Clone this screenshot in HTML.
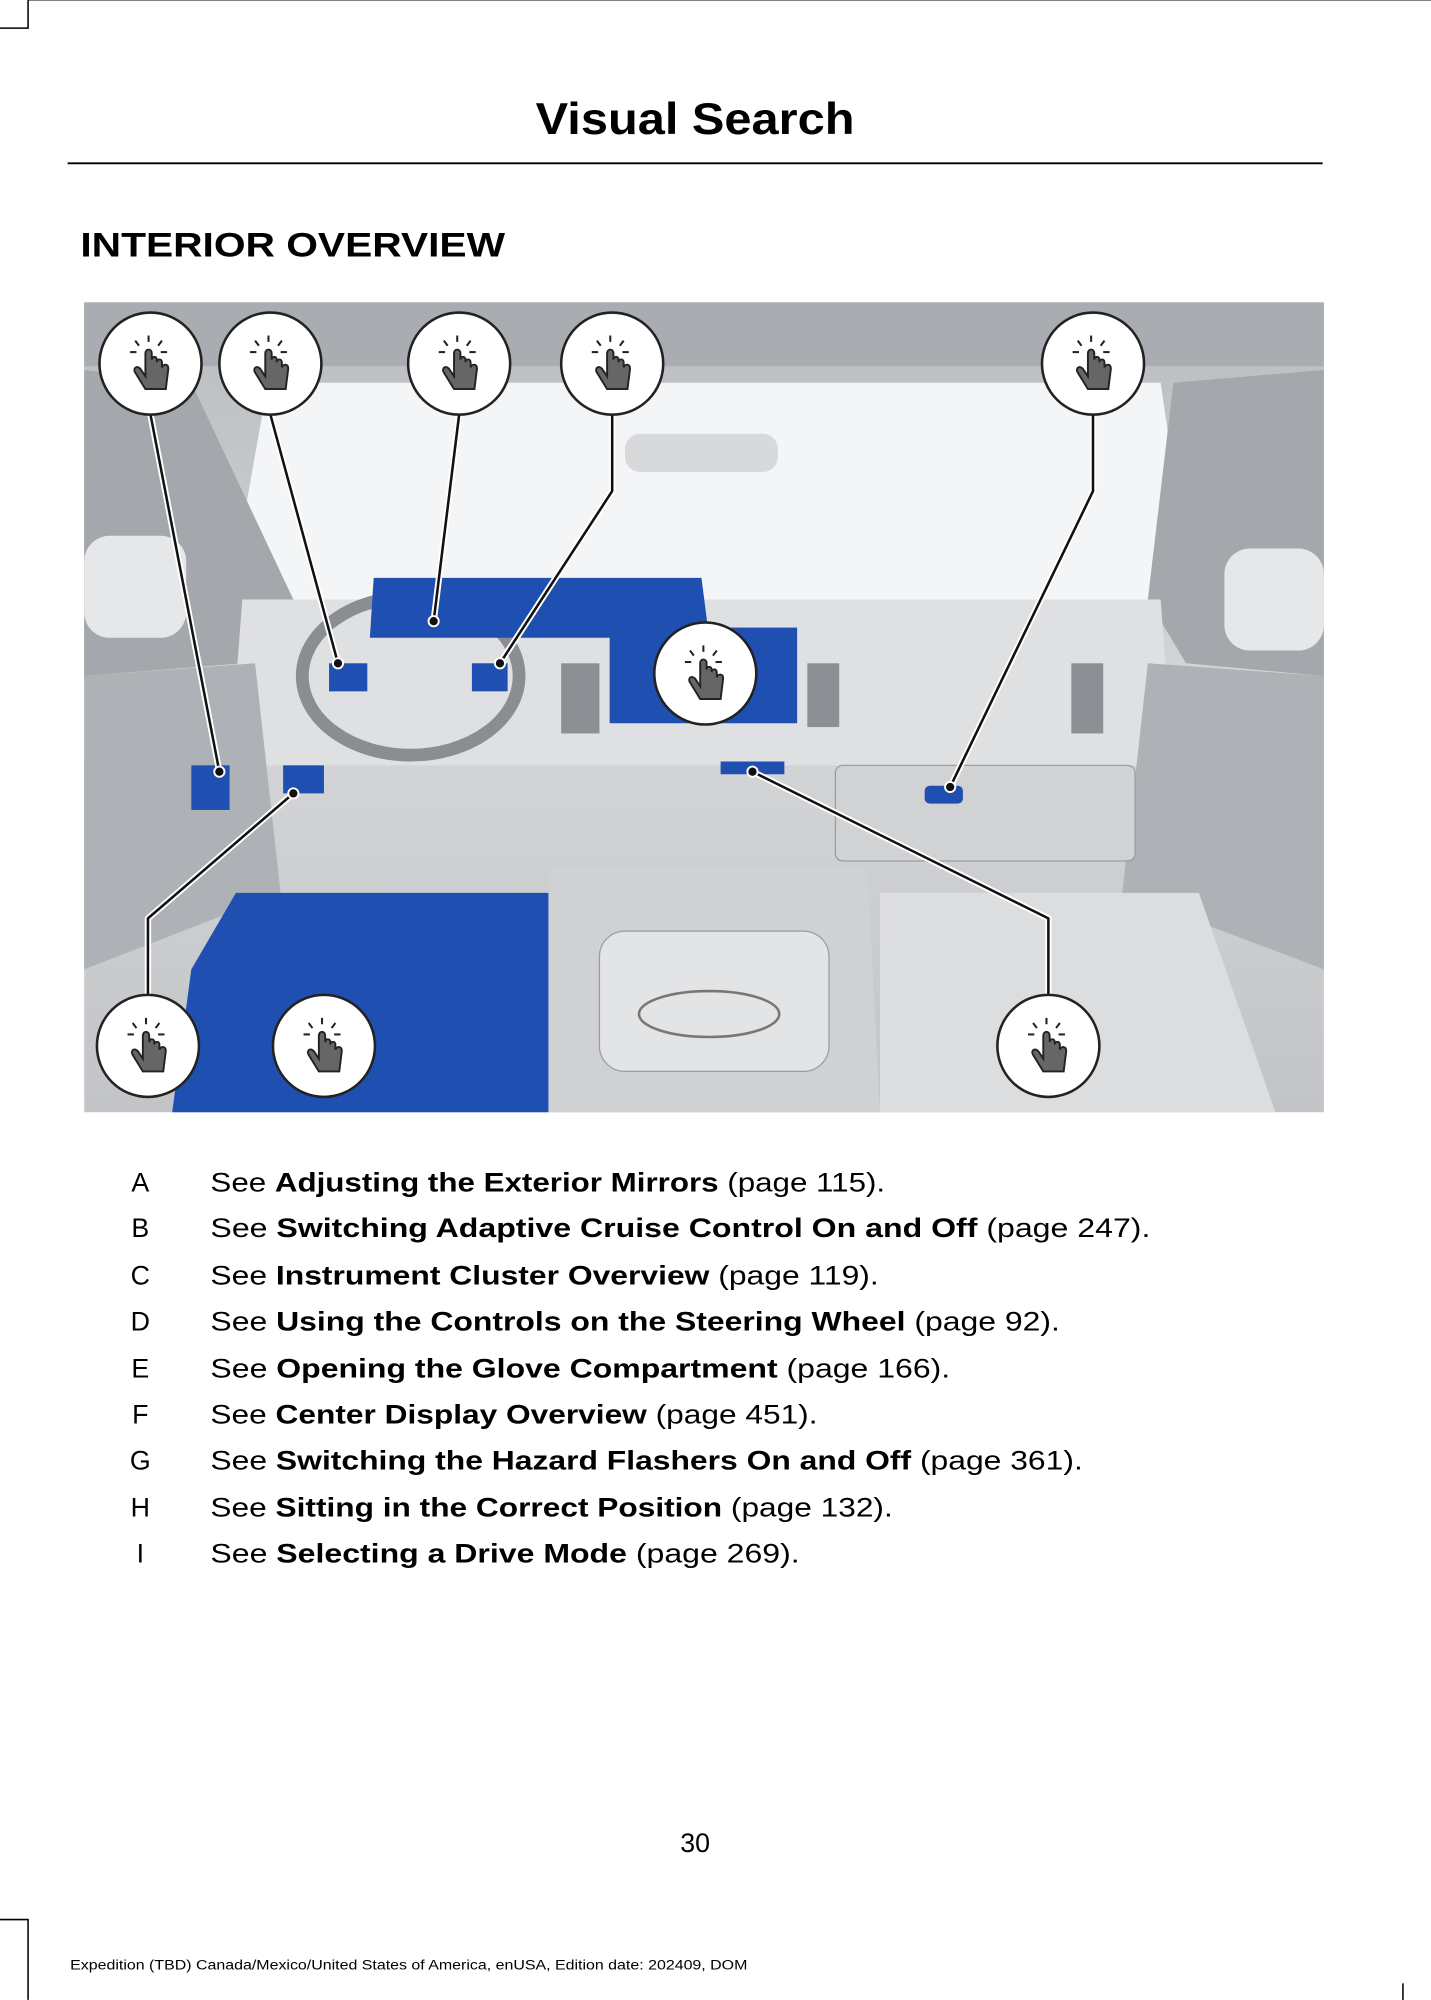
<!DOCTYPE html>
<html><head><meta charset="utf-8"><style>
html,body{margin:0;padding:0;background:#fff;width:1431px;height:2000px;overflow:hidden}
svg{display:block}
text{font-family:"Liberation Sans",sans-serif}
</style></head><body>
<svg width="1431" height="2000" viewBox="0 0 1122 1568" xmlns="http://www.w3.org/2000/svg">
<defs>
<linearGradient id="bg" x1="0" y1="0" x2="0" y2="1"><stop offset="0" stop-color="#b9bcc0"/><stop offset="0.5" stop-color="#d4d6d8"/><stop offset="1" stop-color="#c2c4c7"/></linearGradient>
<g id="hand">
<circle r="40" fill="#fff" stroke="#222" stroke-width="2"/>
<path d="M-4,-8 L-4,10 L-8,4 C-11,1 -14,4 -12,7 L-4,20 L12,20 L14,4 C14,0 10,0 9,3 L9,-1 C9,-4 5,-4 5,-1 L5,-3 C5,-6 1,-6 1,-3 L1,-8 C1,-12 -4,-12 -4,-8 Z" fill="#666" stroke="#222" stroke-width="1.5"/>
<g stroke="#222" stroke-width="1.6"><line x1="-1.5" y1="-22" x2="-1.5" y2="-17"/><line x1="-12" y1="-18" x2="-9" y2="-14"/><line x1="9" y1="-18" x2="6" y2="-14"/><line x1="-16" y1="-9" x2="-11" y2="-9"/><line x1="13" y1="-9" x2="8" y2="-9"/></g>
</g>
</defs>
<g stroke="#000" stroke-width="1.2" fill="none">
<path d="M0,22 L22,22 L22,0"/><line x1="22" y1="0" x2="1122" y2="0" stroke-width="0.6"/>
<path d="M0,1505 L22,1505 L22,1568"/>
<line x1="1100" y1="1555" x2="1100" y2="1568"/>
</g>
<text x="420" y="105" font-size="35" font-weight="bold" textLength="250" lengthAdjust="spacingAndGlyphs">Visual Search</text>
<line x1="53" y1="128" x2="1037" y2="128" stroke="#000" stroke-width="1.5"/>
<text x="63" y="201" font-size="27" font-weight="bold" textLength="333" lengthAdjust="spacingAndGlyphs">INTERIOR OVERVIEW</text>
<rect x="66" y="237" width="972" height="635" fill="url(#bg)"/>
<path d="M210,300 L910,300 L935,470 L180,470 Z" fill="#f4f5f6"/>
<rect x="66" y="237" width="972" height="50" fill="#a9acb0"/>
<path d="M66,290 L150,300 L230,470 L190,520 L66,530 Z" fill="#a4a7ab"/>
<path d="M1038,290 L920,300 L900,470 L930,520 L1038,530 Z" fill="#a4a7ab"/>
<rect x="66" y="420" width="80" height="80" rx="20" fill="#e6e7e8"/>
<rect x="960" y="430" width="78" height="80" rx="20" fill="#e6e7e8"/>
<path d="M190,470 L910,470 L920,600 L180,600 Z" fill="#dfe0e2"/>
<ellipse cx="322" cy="530" rx="85" ry="62" fill="none" stroke="#8a8d91" stroke-width="10"/>
<rect x="490" y="340" width="120" height="30" rx="12" fill="#d8d9db"/>
<path d="M66,530 L200,520 L220,700 L66,760 Z" fill="#aeb1b5"/>
<path d="M1038,530 L900,520 L880,700 L1038,760 Z" fill="#aeb1b5"/>
<rect x="655" y="600" width="235" height="75" rx="6" fill="#d0d2d4" stroke="#9a9da1"/>
<path d="M430,680 L680,680 L690,872 L420,872 Z" fill="#cfd1d3"/>
<rect x="470" y="730" width="180" height="110" rx="20" fill="#e3e4e5" stroke="#9a9da1"/>
<ellipse cx="556" cy="795" rx="55" ry="18" fill="none" stroke="#777" stroke-width="2"/>
<path d="M690,700 L940,700 L1000,872 L690,872 Z" fill="#dcdddf"/>
<rect x="440" y="520" width="30" height="55" fill="#8c8f93"/><rect x="633" y="520" width="25" height="50" fill="#8c8f93"/><rect x="840" y="520" width="25" height="55" fill="#8c8f93"/>
<g fill="#1f4fb0">
<path d="M293,453 L550,453 L556,500 L290,500 Z"/>
<rect x="478" y="492" width="147" height="75"/>
<rect x="258" y="520" width="30" height="22"/>
<rect x="370" y="520" width="28" height="22"/>
<rect x="150" y="600" width="30" height="35"/>
<rect x="222" y="600" width="32" height="22"/>
<rect x="565" y="597" width="50" height="10"/>
<rect x="725" y="616" width="30" height="14" rx="4"/>
<path d="M185,700 L430,700 L430,872 L135,872 L150,760 Z"/>
</g>
<g fill="none" stroke-linejoin="round">
<g stroke="#fff" stroke-width="5">
<path d="M118,325 L172,605"/><path d="M212,325 L265,520"/><path d="M360,325 L340,487"/><path d="M480,325 L480,385 L392,520"/><path d="M857,325 L857,385 L745,617"/><path d="M116,780 L116,720 L230,622"/><path d="M822,780 L822,720 L590,605"/>
</g>
<g stroke="#111" stroke-width="2">
<path d="M118,325 L172,605"/><path d="M212,325 L265,520"/><path d="M360,325 L340,487"/><path d="M480,325 L480,385 L392,520"/><path d="M857,325 L857,385 L745,617"/><path d="M116,780 L116,720 L230,622"/><path d="M822,780 L822,720 L590,605"/>
</g>
</g>
<g fill="#111" stroke="#fff" stroke-width="1.5">
<circle cx="172" cy="605" r="4"/><circle cx="265" cy="520" r="4"/><circle cx="340" cy="487" r="4"/><circle cx="392" cy="520" r="4"/><circle cx="745" cy="617" r="4"/><circle cx="230" cy="622" r="4"/><circle cx="590" cy="605" r="4"/>
</g>
<use href="#hand" x="118" y="285"/><use href="#hand" x="212" y="285"/><use href="#hand" x="360" y="285"/><use href="#hand" x="480" y="285"/><use href="#hand" x="857" y="285"/><use href="#hand" x="553" y="528"/><use href="#hand" x="116" y="820"/><use href="#hand" x="254" y="820"/><use href="#hand" x="822" y="820"/>
<g font-size="21">
<text x="110" y="934" text-anchor="middle">A</text><text x="165" y="934" textLength="529" lengthAdjust="spacingAndGlyphs">See <tspan font-weight="bold">Adjusting the Exterior Mirrors</tspan> (page 115).</text>
<text x="110" y="970" text-anchor="middle">B</text><text x="165" y="970" textLength="737" lengthAdjust="spacingAndGlyphs">See <tspan font-weight="bold">Switching Adaptive Cruise Control On and Off</tspan> (page 247).</text>
<text x="110" y="1007" text-anchor="middle">C</text><text x="165" y="1007" textLength="524" lengthAdjust="spacingAndGlyphs">See <tspan font-weight="bold">Instrument Cluster Overview</tspan> (page 119).</text>
<text x="110" y="1043" text-anchor="middle">D</text><text x="165" y="1043" textLength="666" lengthAdjust="spacingAndGlyphs">See <tspan font-weight="bold">Using the Controls on the Steering Wheel</tspan> (page 92).</text>
<text x="110" y="1080" text-anchor="middle">E</text><text x="165" y="1080" textLength="580" lengthAdjust="spacingAndGlyphs">See <tspan font-weight="bold">Opening the Glove Compartment</tspan> (page 166).</text>
<text x="110" y="1116" text-anchor="middle">F</text><text x="165" y="1116" textLength="476" lengthAdjust="spacingAndGlyphs">See <tspan font-weight="bold">Center Display Overview</tspan> (page 451).</text>
<text x="110" y="1152" text-anchor="middle">G</text><text x="165" y="1152" textLength="684" lengthAdjust="spacingAndGlyphs">See <tspan font-weight="bold">Switching the Hazard Flashers On and Off</tspan> (page 361).</text>
<text x="110" y="1189" text-anchor="middle">H</text><text x="165" y="1189" textLength="535" lengthAdjust="spacingAndGlyphs">See <tspan font-weight="bold">Sitting in the Correct Position</tspan> (page 132).</text>
<text x="110" y="1225" text-anchor="middle">I</text><text x="165" y="1225" textLength="462" lengthAdjust="spacingAndGlyphs">See <tspan font-weight="bold">Selecting a Drive Mode</tspan> (page 269).</text>
</g>
<text x="545" y="1452" font-size="21" text-anchor="middle">30</text>
<text x="55" y="1544" font-size="10.5" textLength="531" lengthAdjust="spacingAndGlyphs">Expedition (TBD) Canada/Mexico/United States of America, enUSA, Edition date: 202409, DOM</text>
</svg>
</body></html>
